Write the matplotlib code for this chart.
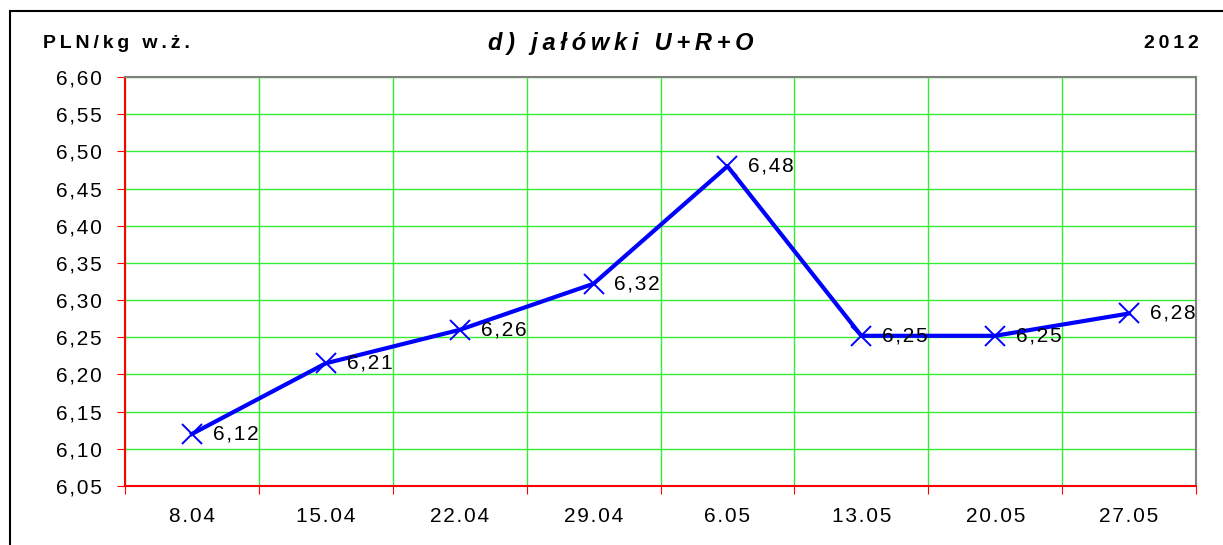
import matplotlib.pyplot as plt
from matplotlib.patches import Rectangle
from matplotlib.ticker import FixedLocator, NullFormatter

plt.rcParams['font.family'] = ['Liberation Sans', 'DejaVu Sans']

weeks = ['8.04', '15.04', '22.04', '29.04', '6.05', '13.05', '20.05', '27.05']
prices = [6.12, 6.215, 6.26, 6.322, 6.48, 6.252, 6.252, 6.282]
labels = ['6,12', '6,21', '6,26', '6,32', '6,48', '6,25', '6,25', '6,28']
yticks = [6.05, 6.10, 6.15, 6.20, 6.25, 6.30, 6.35, 6.40, 6.45, 6.50, 6.55, 6.60]

HAIR = '\u200a'
THIN = '\u2009'


def spaced(s, gap):
    # the original chart uses wide letter spacing
    return gap.join(s)


fig = plt.figure(figsize=(12.23, 5.45), dpi=100)
ax = fig.add_axes([125 / 1223, 1 - 486 / 545, (1196 - 125) / 1223, (486 - 77) / 545])

x = list(range(len(weeks)))
ax.plot(x, prices, color='#0000ff', linewidth=3, marker='x', markersize=14,
        markeredgewidth=1.4, zorder=3)
for xi, yi, lab in zip(x, prices, labels):
    ax.annotate(spaced(lab, HAIR), (xi, yi), xytext=(15, 0), textcoords='offset points',
                va='center', ha='left', fontsize=15, zorder=4)

ax.set_xlim(-0.5, len(weeks) - 0.5)
ax.set_ylim(6.05, 6.60)
ax.set_yticks(yticks)
ax.set_yticklabels([spaced(f'{v:.2f}'.replace('.', ','), HAIR) for v in yticks], fontsize=15)

# tick marks at category boundaries, labels at centres
ax.xaxis.set_major_locator(FixedLocator([i - 0.5 for i in range(len(weeks) + 1)]))
ax.xaxis.set_major_formatter(NullFormatter())
ax.xaxis.set_minor_locator(FixedLocator(x))
ax.set_xticklabels([spaced(w, HAIR) for w in weeks], minor=True, fontsize=15)
ax.tick_params(axis='x', which='major', length=6, color='red', direction='out')
ax.tick_params(axis='x', which='minor', length=0, pad=15)
ax.tick_params(axis='y', length=6, color='red', direction='out', pad=11)

ax.grid(True, which='major', color='#33ee33', linewidth=1)
ax.set_axisbelow(True)

ax.spines['left'].set_color('red')
ax.spines['bottom'].set_color('red')
ax.spines['top'].set_color('#808080')
ax.spines['right'].set_color('#808080')
for s in ax.spines.values():
    s.set_linewidth(1.5)

fig.text(43 / 1223, 1 - 43 / 545, spaced('PLN/kg w.ż.', THIN), fontsize=14,
         fontweight='bold', ha='left', va='center')
fig.text(621 / 1223, 1 - 43 / 545, spaced('d) jałówki U+R+O', THIN), fontsize=17,
         fontweight='bold', style='italic', ha='center', va='center')
fig.text(1199 / 1223, 1 - 43 / 545, spaced('2012', THIN), fontsize=14,
         fontweight='bold', ha='right', va='center')

fig.patches.append(Rectangle((10 / 1223, -0.1), 1.1, 1 - 11 / 545 + 0.1,
                             transform=fig.transFigure, fill=False,
                             edgecolor='black', linewidth=1.5))

fig.savefig('out.png', dpi=100)
